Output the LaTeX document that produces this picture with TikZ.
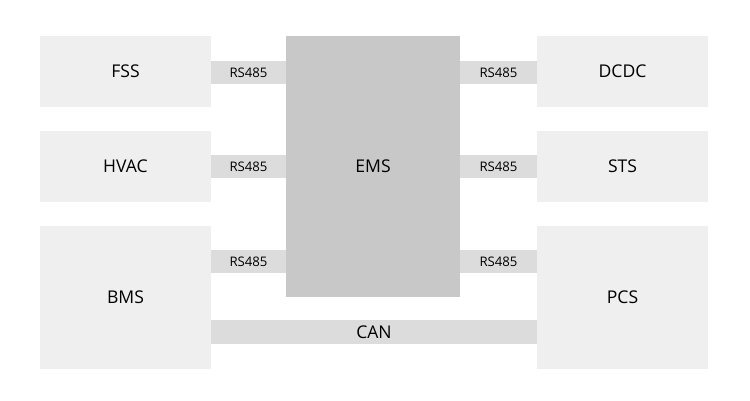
\documentclass[tikz,border=0pt]{standalone}
\usepackage{fontspec}
\setmainfont{Open Sans}
\usepackage{tikz}
\usetikzlibrary{positioning}
\definecolor{unitgray}{HTML}{EFEFEF}
\definecolor{emsgray}{HTML}{C8C8C8}
\definecolor{busgray}{HTML}{DCDCDC}
\tikzset{
  unit/.style={fill=unitgray, draw=none, minimum width=3.42cm, inner sep=0pt, font=\fontsize{10}{12}\selectfont},
  bus/.style={fill=busgray, draw=none, minimum height=0.46cm, inner sep=0pt, font=\fontsize{7.5}{9}\selectfont},
}
\begin{document}
\begin{tikzpicture}[x=0.02cm, y=-0.02cm]

\useasboundingbox (0,0) rectangle (750,400);

% units on the left
\node [unit, minimum height=1.42cm] (fss)  at (125.5,71.5)  {FSS};
\node [unit, minimum height=1.42cm] (hvac) at (125.5,166.5) {HVAC};
\node [unit, minimum height=2.86cm] (bms)  at (125.5,297.5) {BMS};

% units on the right
\node [unit, minimum height=1.42cm] (dcdc) at (622.5,71.5)  {DCDC};
\node [unit, minimum height=1.42cm] (sts)  at (622.5,166.5) {STS};
\node [unit, minimum height=2.86cm] (pcs)  at (622.5,297.5) {PCS};

% controller
\node [fill=emsgray, minimum width=3.48cm, minimum height=5.22cm, inner sep=0pt,
       font=\fontsize{10}{12}\selectfont] (ems) at (373,166.5) {EMS};

% serial links
\node [bus, minimum width=1.5cm]  (l1) at (248.5,72.5)  {RS485};
\node [bus, minimum width=1.5cm]  (l2) at (248.5,166.5) {RS485};
\node [bus, minimum width=1.5cm]  (l3) at (248.5,261.5) {RS485};
\node [bus, minimum width=1.54cm] (r1) at (498.5,72.5)  {RS485};
\node [bus, minimum width=1.54cm] (r2) at (498.5,166.5) {RS485};
\node [bus, minimum width=1.54cm] (r3) at (498.5,261.5) {RS485};

% can bus
\node [bus, minimum width=6.52cm, minimum height=0.48cm, font=\fontsize{10}{12}\selectfont] (can) at (374,332) {CAN};

\end{tikzpicture}
\end{document}
